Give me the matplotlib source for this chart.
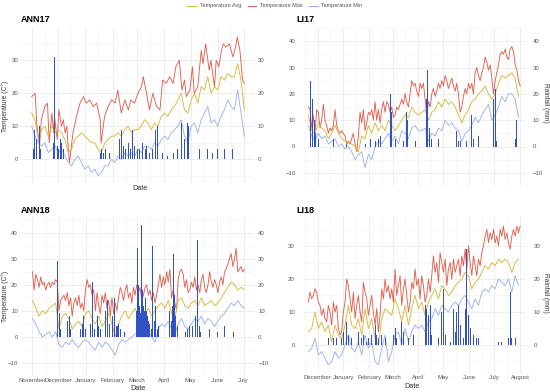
import numpy as np
import pandas as pd
import matplotlib
matplotlib.use("Agg")
import matplotlib.pyplot as plt
import matplotlib.dates as mdates
from matplotlib.lines import Line2D

plt.rcParams['font.family'] = ['Liberation Sans', 'DejaVu Sans']

# line / bar colours
c_avg = '#D9B83C'
c_max = '#E0604F'
c_min = '#9DB2EA'
c_rain = '#3152C4'

# ---------------- ANN17 (Nov 2016 - Jun 2017) ----------------
ann17_start = pd.Timestamp('2016-11-01')
ann17_max_day = [0, 4, 6, 9, 11, 15, 18, 20, 23, 25, 26, 29, 31, 34, 36, 38, 40, 42, 43, 47,
                 51, 55, 59, 62, 66, 70, 74, 78, 79, 81, 83, 87, 91, 95, 98, 102, 106, 110, 113, 117,
                 121, 125, 127, 130, 134, 138, 142, 146, 149, 153, 157, 161, 164, 168, 171, 174, 176, 180, 183, 185,
                 189, 193, 195, 198, 202, 204, 206, 208, 210, 213, 216, 218, 221, 225, 229, 232, 234, 237, 240, 242]
ann17_max = [19, 20, 10, 4, 12, 16, 17, 5, 14, 8, 13, 6, 15, 10, 12, 8, 10, 2, -1, 8,
             13, 17, 19, 17, 18, 16, 17, 12, 5, 9, 13, 16, 18, 17, 21, 14, 18, 15, 18, 17,
             20, 22, 25, 21, 15, 20, 16, 15, 24, 23, 25, 23, 28, 30, 21, 24, 19, 21, 28, 20,
             22, 33, 29, 35, 27, 30, 26, 22, 30, 28, 33, 35, 34, 35, 31, 34, 37, 33, 24, 23]
ann17_avg = [14, 12, 6, 9, 10, 7, 10, 8, 9, 8, 6, 2, 3, 6, 7, 8, 7, 6, 5, 5,
             3, 2, 5, 6, 7, 7, 8, 7, 9, 10, 8, 9, 9, 10, 12, 11, 9, 11, 10, 13,
             14, 13, 15, 16, 18, 20, 15, 14, 18, 20, 17, 22, 21, 25, 20, 22, 21, 25, 24, 26,
             25, 25, 29, 24, 15]
ann17_min = [10, 7, 5, 4, 5, 2, 3, 4, 2, 3, 1, -1, -2, 0, 1, -1, -3, -2, -4, -3,
             -5, -4, -2, -2, 0, -1, 1, 0, 2, 1, 2, 1, 3, 2, 4, 4, 3, 5, 4, 6,
             7, 6, 8, 9, 10, 12, 7, 5, 10, 11, 8, 12, 14, 16, 11, 12, 10, 13, 15, 18,
             16, 15, 21, 14, 7]
ann17_rain_day = [2, 3, 5, 6, 9, 10, 25, 26, 29, 31, 33, 34, 36, 78, 79, 82, 84, 89,
                  100, 102, 105, 107, 110, 112, 115, 117, 120, 123, 126, 129, 131, 134, 138, 141, 143,
                  149, 155, 161, 166, 171, 174, 177, 179, 191, 200, 206, 212, 219, 229]
ann17_rain = [3, 9, 6, 4, 10, 3, 5, 31, 4, 3, 6, 5, 3, 2, 3, 2, 3, 2,
              6, 9, 4, 3, 5, 3, 9, 4, 3, 3, 5, 3, 4, 2, 3, 9, 10,
              2, 1, 2, 3, 11, 6, 11, 10, 3, 3, 2, 3, 3, 3]

# ---------------- LI17 (Nov 2016 - Aug 2017) ----------------
li17_start = pd.Timestamp('2016-11-20')
li17_max = [15, 14, 7, 12, 5, 14, 13, 7, 10, 16, 10, 8, 5, 7, 6, 8, 14, 8, 6, 5,
            6, 5, 4, 1, 2, 1, 3, 5, 1, -2, 4, 13, 9, 14, 6, 9, 13, 12, 14, 10,
            17, 10, 14, 9, 14, 17, 13, 17, 16, 13, 15, 11, 12, 15, 14, 16, 18, 16, 20, 17,
            15, 20, 25, 23, 24, 21, 19, 24, 22, 24, 18, 12, 17, 15, 20, 22, 19, 21, 24, 22,
            25, 23, 27, 25, 22, 24, 26, 23, 21, 24, 20, 13, 15, 19, 22, 20, 24, 22, 24, 20,
            28, 30, 27, 25, 28, 30, 34, 32, 29, 31, 26, 20, 25, 28, 31, 35, 36, 35, 37, 34,
            33, 37, 38, 36, 31, 29, 25, 23]
li17_avg = [12, 6, 5, 9, 7, 6, 3, 5, 8, 5, 3, 2, 1, 1, 0, -2, 4, 3, 8, 5,
            9, 6, 8, 6, 10, 8, 6, 8, 10, 12, 11, 15, 13, 12, 13, 14, 10, 13, 14, 17,
            15, 18, 16, 17, 15, 12, 9, 12, 14, 17, 18, 20, 21, 23, 20, 18, 20, 24, 27, 26,
            27, 28, 26, 19]
li17_min = [8, 4, 2, 5, 3, 4, 1, 2, 3, 0, 1, -1, 0, -2, -5, -3, -2, -8, -3, -5,
            0, 2, 1, 3, 5, 2, 4, 1, 6, 5, 3, 7, 8, 6, 6, 7, 2, 5, 4, 7,
            6, 10, 8, 9, 7, 6, 2, 5, 6, 8, 11, 9, 12, 14, 16, 10, 12, 15, 19, 17,
            20, 20, 18, 11]
li17_rain_day = [2, 3, 5, 7, 9, 12, 14, 30, 46, 68, 74, 80, 84, 86, 98, 100, 104, 114, 118, 119,
                 128, 142, 143, 145, 148, 156, 178, 180, 182, 190, 196, 198, 204, 222, 224, 226, 248, 250]
li17_rain = [15, 25, 18, 10, 5, 3, 2, 3, 1, 1, 3, 2, 3, 4, 20, 13, 3, 2, 13, 10,
             2, 18, 29, 7, 3, 3, 6, 2, 2, 2, 12, 3, 4, 18, 22, 2, 3, 10]

# ---------------- ANN18 (Nov 2017 - Jul 2018) ----------------
ann18_start = pd.Timestamp('2017-11-01')
ann18_max = [25, 18, 24, 22, 19, 23, 20, 21, 18, 20, 21, 19, 21, 20, 22, 21, 10, 14, 15, 16,
             14, 17, 12, 15, 8, 13, 15, 12, 16, 11, 13, 10, 18, 22, 19, 20, 16, 18, 10, 17,
             12, 9, 16, 13, 17, 11, 14, 8, 15, 9, 13, 10, 15, 19, 17, 14, 18, 20, 15, 17,
             13, 19, 16, 20, 17, 19, 14, 16, 19, 20, 16, 18, 14, 17, 13, 16, 20, 24, 19, 23,
             20, 25, 21, 26, 15, 18, 13, 10, 22, 25, 26, 24, 19, 22, 17, 18, 21, 19, 23, 18,
             20, 17, 22, 24, 19, 17, 20, 25, 21, 19, 22, 20, 17, 21, 23, 20, 25, 26, 28, 30,
             32, 27, 30, 34, 25, 26, 27, 25, 26]
ann18_avg = [14, 11, 8, 10, 9, 11, 12, 13, 3, 8, 9, 7, 3, 5, 6, 4, 9, 10, 7, 5,
             8, 4, 6, 9, 5, 0, 5, 8, 10, 7, 9, 11, 8, 10, 9, 11, 8, 10, 12, 13,
             11, 14, 9, 7, 14, 15, 12, 11, 13, 14, 12, 15, 12, 13, 14, 12, 13, 15, 17, 19,
             21, 20, 18, 19, 18]
ann18_min = [7, 5, 2, 0, 1, 2, 0, 2, -3, -4, -2, -3, -1, -3, -4, -2, -1, -2, -4, -5,
             -2, -4, -2, -3, -5, -7, -3, -1, -2, -1, 0, 1, 2, 0, 3, 2, 0, -2, 3, 5,
             4, 6, 3, 1, 5, 7, 4, 3, 5, 7, 6, 8, 5, 7, 6, 4, 6, 8, 9, 11,
             13, 12, 14, 12, 11]
ann18_rain_day = [29, 31, 32, 40, 42, 44, 55, 57, 59, 61, 67, 69, 71, 75, 76, 78, 84, 86, 88, 92,
                  94, 96, 97, 99, 101, 105, 119, 120, 121, 122, 123, 124, 125, 126, 127, 128, 129, 130, 131, 132,
                  133, 134, 136, 138, 140, 141, 143, 145, 157, 159, 161, 162, 163, 164, 166, 176, 178, 180, 183, 187,
                  189, 191, 193, 203, 212, 220, 231]
ann18_rain = [29, 9, 3, 6, 8, 3, 3, 5, 8, 3, 5, 21, 3, 8, 4, 3, 10, 14, 5, 8,
              15, 4, 4, 5, 3, 2, 10, 34, 14, 20, 12, 9, 43, 18, 12, 10, 7, 15, 10, 8,
              6, 5, 3, 35, 6, 12, 3, 4, 10, 6, 12, 32, 16, 8, 4, 2, 3, 4, 4, 8,
              37, 4, 2, 3, 2, 4, 2]

# ---------------- LI18 (Nov 2017 - Aug 2018) ----------------
li18_start = pd.Timestamp('2017-11-20')
li18_max = [13, 16, 14, 15, 17, 16, 13, 12, 9, 11, 8, 7, 12, 10, 6, 13, 10, 12, 5, 3,
            4, 10, 13, 20, 18, 14, 10, 16, 8, 12, 15, 10, 7, 19, 16, 14, 9, 12, 15, 10,
            6, 11, 4, 9, 17, 14, 20, 16, 18, 14, 17, 13, 23, 15, 18, 21, 12, 17, 20, 15,
            10, 13, 19, 17, 23, 18, 20, 14, 21, 18, 13, 15, 20, 16, 21, 27, 22, 25, 19, 28,
            25, 22, 26, 18, 23, 25, 20, 26, 22, 24, 26, 21, 27, 24, 29, 23, 30, 25, 21, 27,
            24, 21, 26, 24, 28, 30, 33, 35, 31, 34, 32, 35, 31, 33, 30, 35, 33, 36, 32, 34,
            31, 29, 33, 35, 33, 36, 34, 36]
li18_avg = [4, 5, 10, 5, 7, 4, 6, 1, 6, 3, 2, 6, 12, 6, 5, 8, 3, 11, 5, 8,
            2, 0, 8, 11, 10, 9, 14, 11, 7, 12, 6, 11, 15, 11, 13, 9, 13, 15, 17, 14,
            18, 17, 15, 16, 18, 19, 20, 22, 21, 17, 19, 20, 22, 24, 23, 25, 24, 26, 25, 26,
            25, 22, 25, 26]
li18_min = [-2, -1, 2, -3, -2, -4, -6, -5, -2, -4, -3, 0, 3, -1, -2, 1, -3, 3, -1, 1,
            -5, -6, -1, 3, -5, -2, 3, 4, 0, 5, 1, 4, 6, 5, 6, 4, 7, 8, 11, 9,
            12, 11, 10, 12, 13, 12, 14, 15, 13, 11, 14, 12, 16, 17, 16, 18, 17, 20, 19, 18,
            20, 16, 21, 18]
li18_rain_day = [24, 26, 30, 34, 38, 40, 42, 46, 48, 50, 52, 56, 60, 64, 66, 70, 72, 76, 80, 82,
                 84, 88, 92, 102, 104, 106, 112, 114, 120, 126, 140, 142, 144, 146, 148, 156, 160, 162, 164, 170,
                 174, 176, 178, 180, 182, 186, 188, 190, 192, 194, 198, 202, 204, 228, 232, 240, 242, 244, 248]
li18_rain = [2, 1, 2, 2, 1, 2, 4, 7, 3, 4, 2, 2, 4, 2, 3, 1, 2, 3, 6, 3,
             2, 3, 2, 3, 5, 2, 7, 4, 2, 3, 12, 11, 9, 12, 3, 2, 10, 17, 3, 1,
             11, 4, 10, 12, 6, 2, 11, 29, 9, 5, 3, 2, 2, 1, 1, 2, 16, 2, 2]

W, H = 550, 392
fig = plt.figure(figsize=(W / 100, H / 100), dpi=100)


def box(l, t, r, b):
    # pixel box -> figure fraction
    return [l / W, 1 - b / H, (r - l) / W, (b - t) / H]


def panel(pos, start, max_dates, t_max, t_dates, t_avg, t_min, rain_days, rain,
          xlim, ylim, yticks, show_months, pad):
    ax = fig.add_axes(pos)
    ax.plot(max_dates, t_max, color=c_max, lw=0.65, zorder=2)
    ax.plot(t_dates, t_avg, color=c_avg, lw=0.65, zorder=2)
    ax.plot(t_dates, t_min, color=c_min, lw=0.65, zorder=2)
    rain_dates = start + pd.to_timedelta(rain_days, unit='D')
    ax.bar(rain_dates, rain, width=1.1, color=c_rain, lw=0, zorder=3)

    ax.set_xlim(start + pd.Timedelta(days=xlim[0]), start + pd.Timedelta(days=xlim[1]))
    ax.set_ylim(*ylim)
    ax.set_yticks(yticks)
    ax.set_yticks(np.arange(yticks[0] - 5, yticks[-1] + 10, 10), minor=True)
    ax.xaxis.set_major_locator(mdates.MonthLocator())
    ax.xaxis.set_minor_locator(mdates.MonthLocator(bymonthday=16))
    ax.xaxis.set_major_formatter(mdates.DateFormatter('%B'))
    ax.grid(True, which='major', color='#E6E6E6', lw=0.5)
    ax.grid(True, which='minor', color='#F2F2F2', lw=0.4)
    ax.set_axisbelow(True)
    for s in ax.spines.values():
        s.set_visible(False)
    ax.tick_params(which='both', length=0, colors='#555555', labelsize=4.3)
    ax.tick_params(axis='y', which='major', pad=pad, labelleft=True, labelright=True)
    ax.tick_params(axis='x', labelbottom=show_months, labelsize=4.3, pad=1.5)
    return ax


# ANN17
panel(box(22, 28, 254, 183), ann17_start,
      ann17_start + pd.to_timedelta(ann17_max_day, unit='D'), ann17_max,
      pd.date_range(ann17_start, ann17_start + pd.Timedelta(days=242), periods=len(ann17_avg)),
      ann17_avg, ann17_min, ann17_rain_day, ann17_rain,
      (-11, 253), (-7.2, 39.8), [0, 10, 20, 30], False, 2.5)

# LI17
panel(box(302.5, 28, 526, 186), li17_start,
      pd.date_range(li17_start, periods=len(li17_max), freq='2D'), li17_max,
      pd.date_range(li17_start, periods=len(li17_avg), freq='4D'),
      li17_avg, li17_min, li17_rain_day, li17_rain,
      (-7, 261), (-11.5, 40.3), [-10, 0, 10, 20, 30, 40], False, 5)

# ANN18
panel(box(22, 216, 254, 376), ann18_start,
      pd.date_range(ann18_start, '2018-07-02', periods=len(ann18_max)), ann18_max,
      pd.date_range(ann18_start, '2018-07-02', periods=len(ann18_avg)),
      ann18_avg, ann18_min, ann18_rain_day, ann18_rain,
      (-12, 254), (-11.2, 46.4), [-10, 0, 10, 20, 30, 40], True, 3)

# LI18
panel(box(302.5, 216, 526, 373), li18_start,
      pd.date_range(li18_start, periods=len(li18_max), freq='2D'), li18_max,
      pd.date_range(li18_start, periods=len(li18_avg), freq='4D'),
      li18_avg, li18_min, li18_rain_day, li18_rain,
      (-7, 261), (-8.5, 39.1), [0, 10, 20, 30], True, 5.5)

# panel titles and axis labels
for txt, x, y in [('ANN17', 21, 20), ('LI17', 296, 20), ('ANN18', 21, 211), ('LI18', 296, 211)]:
    fig.text(x / W, 1 - y / H, txt, fontsize=6.5, fontweight='bold', va='center', ha='left')
for x, y in [(140, 188), (138, 388), (412, 387)]:
    fig.text(x / W, 1 - y / H, 'Date', fontsize=5.3, color='#333333', ha='center', va='center')
for y in [106, 296]:
    fig.text(5 / W, 1 - y / H, 'Temperature (C°)', fontsize=4.8, color='#333333',
             rotation=90, ha='center', va='center')
    fig.text(545 / W, 1 - (y - 3) / H, 'Rainfall (mm)', fontsize=4.8, color='#333333',
             rotation=270, ha='center', va='center')

# legend on top
handles = [Line2D([], [], color=c_avg, lw=0.8),
           Line2D([], [], color=c_max, lw=0.8),
           Line2D([], [], color=c_min, lw=0.8)]
fig.legend(handles, ['Temperature Avg', 'Temperature Max', 'Temperature Min'],
           loc='center', bbox_to_anchor=(275 / W, 1 - 6 / H), ncol=3, frameon=False,
           fontsize=4, handlelength=1.6, columnspacing=1.2, handletextpad=0.6,
           labelcolor='#555555')

fig.savefig('out.png', dpi=100)
